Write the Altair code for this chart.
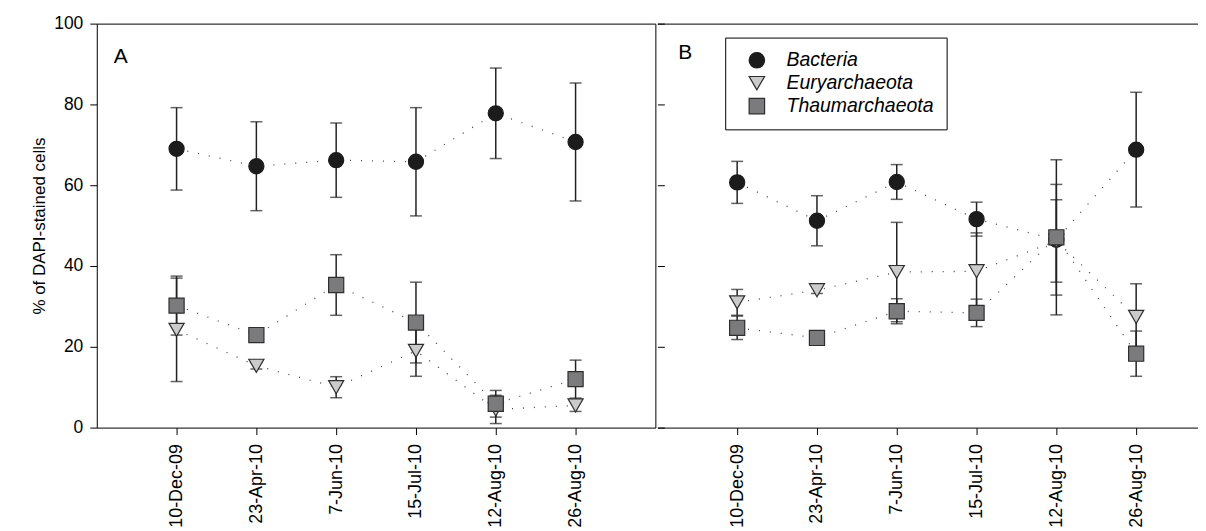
import altair as alt
import pandas as pd

dates = ["10-Dec-09", "23-Apr-10", "7-Jun-10", "15-Jul-10", "12-Aug-10", "26-Aug-10"]
series_names = ["Bacteria", "Euryarchaeota", "Thaumarchaeota"]
panels = ["A", "B"]

# Panel A
bacteria_A = [69.0, 64.7, 66.2, 65.8, 77.8, 70.7]
bacteria_A_err = [10.2, 11.0, 9.2, 13.4, 11.2, 14.6]
eury_A = [24.2, 15.3, 10.0, 19.0, 4.5, 5.5]
eury_A_err = [12.8, 0.8, 2.6, 6.3, 3.5, 1.5]
thaum_A = [30.2, 22.9, 35.3, 26.0, 5.9, 12.0]
thaum_A_err = [7.3, 0.8, 7.5, 10.0, 3.3, 4.7]

# Panel B
bacteria_B = [60.7, 51.2, 60.8, 51.6, 46.5, 68.8]
bacteria_B_err = [5.2, 6.2, 4.3, 4.2, 13.7, 14.2]
eury_B = [31.0, 34.0, 38.5, 38.7, 46.2, 27.4]
eury_B_err = [3.2, 0.8, 12.3, 9.5, 10.2, 8.2]
thaum_B = [24.7, 22.2, 28.8, 28.4, 47.1, 18.3]
thaum_B_err = [2.9, 0.8, 3.1, 3.4, 19.2, 5.6]

y_ticks = [0, 20, 40, 60, 80, 100]


def build_df(vals, errs):
    rows = []
    for s, v, e in zip(series_names, vals, errs):
        for i, (vv, ee) in enumerate(zip(v, e)):
            rows.append({"series": s, "pos": i + 1, "date": dates[i],
                         "value": vv, "lo": vv - ee, "hi": vv + ee})
    return pd.DataFrame(rows)


dfA = build_df([bacteria_A, eury_A, thaum_A], [bacteria_A_err, eury_A_err, thaum_A_err])
dfB = build_df([bacteria_B, eury_B, thaum_B], [bacteria_B_err, eury_B_err, thaum_B_err])

FONT = "Liberation Sans"
label_expr = "[" + ",".join("'" + d + "'" for d in dates) + "][datum.value - 1]"

fill_scale = alt.Scale(domain=series_names, range=["#1c1c1c", "#cbcbcb", "#7b7b7e"])
stroke_scale = alt.Scale(domain=series_names, range=["#1c1c1c", "#2e2e2e", "#2e2e2e"])
shape_scale = alt.Scale(domain=series_names, range=["circle", "triangle-down", "square"])

H = 405
STEP = 80.0  # pixels per category slot


def panel(df, letter, yaxis, width, framed, lx, ly):
    x_bottom = alt.Axis(values=[1, 2, 3, 4, 5, 6], labelExpr=label_expr, labelAngle=-90,
                        labelFontSize=18, labelFont=FONT, tickSize=7, labelPadding=9,
                        domain=not framed, domainColor="black", grid=False, title=None,
                        labelColor="black", tickColor="black")
    x_top = alt.Axis(orient="top", ticks=False, labels=False, domain=True,
                     domainColor="black", grid=False, title=None)
    xs = alt.Scale(domain=[0, width / STEP])
    ys = alt.Scale(domain=[0, 100])
    base = alt.Chart(df)

    def X(axis):
        return alt.X("pos:Q", scale=xs, axis=axis)

    lines = base.mark_line(strokeDash=[1, 10], strokeWidth=1.3, color="#444").encode(
        x=X(x_top if not framed else None),
        y=alt.Y("value:Q", scale=ys, axis=yaxis), detail="series:N")
    rules = base.mark_rule(strokeWidth=1.5, color="#222").encode(
        x=X(None), y=alt.Y("lo:Q", scale=ys, axis=yaxis), y2="hi:Q")
    cap_hi = base.mark_tick(orient="horizontal", size=12, thickness=1.5, color="#222").encode(
        x=X(None), y=alt.Y("hi:Q", scale=ys, axis=yaxis))
    cap_lo = base.mark_tick(orient="horizontal", size=12, thickness=1.5, color="#222").encode(
        x=X(None), y=alt.Y("lo:Q", scale=ys, axis=yaxis))

    if lx is not None:
        leg = alt.Legend(orient="none", legendX=lx, legendY=ly, title=None,
                         strokeColor="black", fillColor="white", padding=13,
                         symbolOffset=9, labelOffset=20, labelFontSize=19.5,
                         labelFont=FONT, labelFontStyle="italic", labelColor="black",
                         symbolSize=240, rowPadding=2, symbolStrokeWidth=1.2)
    else:
        leg = None
    pts = base.mark_point(filled=True, opacity=1, size=230, strokeWidth=1.2).encode(
        x=X(x_bottom), y=alt.Y("value:Q", scale=ys, axis=yaxis),
        fill=alt.Fill("series:N", scale=fill_scale, legend=leg),
        stroke=alt.Stroke("series:N", scale=stroke_scale, legend=leg),
        shape=alt.Shape("series:N", scale=shape_scale, legend=leg),
    )
    lab_df = pd.DataFrame({"label": [letter]})
    txt = alt.Chart(lab_df).mark_text(fontSize=21, font=FONT, align="left",
                                      baseline="alphabetic", color="black").encode(
        text="label:N",
        x=alt.value(17 if letter == "A" else 21),
        y=alt.value(39 if letter == "A" else 35),
    )
    view = (alt.ViewBackground(stroke="black", strokeWidth=1) if framed
            else alt.ViewBackground(stroke="transparent", strokeWidth=0))
    return alt.layer(lines, rules, cap_hi, cap_lo, pts, txt).resolve_axis(
        x="independent").properties(width=width, height=H, view=view)


yaxis_A = alt.Axis(values=y_ticks, tickSize=7, labelPadding=7, labelFontSize=17.5,
                   labelFont=FONT, title="% of DAPI-stained cells", titleFontSize=17,
                   titleFont=FONT, titleFontWeight="normal", titlePadding=5,
                   domain=False, grid=False, labelColor="black", tickColor="black",
                   titleColor="black")
yaxis_B = alt.Axis(values=y_ticks, tickSize=7, labels=False, offset=-7, domain=False,
                   grid=False, title=None, tickColor="black")

chartA = panel(dfA, panels[0], yaxis_A, 560, True, None, None)
chartB = panel(dfB, panels[1], yaxis_B, 542, False, 68, 14)

chart = alt.hconcat(chartA, chartB, spacing=0).resolve_legend(
    fill="independent", stroke="independent", shape="independent"
).properties(
    padding={"left": 22, "top": 5, "right": 0, "bottom": 0}
).configure(background="white")

chart.save("out.html", embed_options={"renderer": "svg", "actions": False})
